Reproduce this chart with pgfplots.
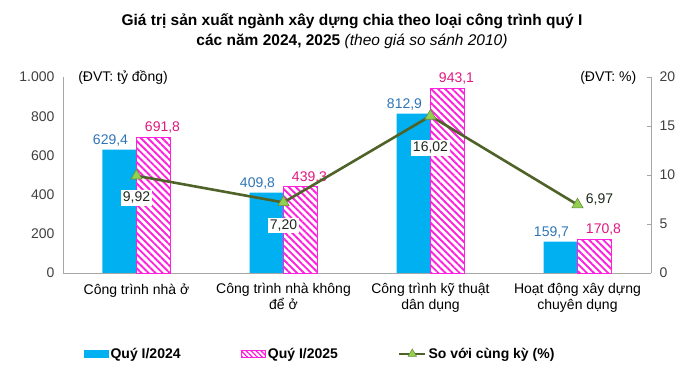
\documentclass[border=0pt]{standalone}
\usepackage{pgfplots}
\pgfplotsset{compat=1.18}
\usepackage{pgfplotstable}
\usepackage{fontspec}
\setmainfont{Liberation Sans}
\usetikzlibrary{patterns.meta}
\definecolor{barblue}{HTML}{00B0F0}
\definecolor{barpink}{HTML}{FF22DD}
\definecolor{lblblue}{HTML}{2E75B6}
\definecolor{lblpink}{HTML}{E0187F}
\definecolor{lineg}{HTML}{4F6228}
\definecolor{markg}{HTML}{92D050}
\definecolor{markd}{HTML}{6E8B3D}
\definecolor{axgray}{HTML}{A6A6A6}
\definecolor{txtgray}{HTML}{404040}
\definecolor{lbldark}{HTML}{1E2A1E}

\pgfplotstableread{
x y
0 629.4
1 409.8
2 812.9
3 159.7
}\quyA
\pgfplotstableread{
x y
0 691.8
1 439.3
2 943.1
3 170.8
}\quyB
\pgfplotstableread{
x y dx dy
0 9.92 0 -22
1 7.20 0 -23
2 16.02 0 -32
3 6.97 22 5
}\tangtruong

\begin{document}
\begin{tikzpicture}[x=1pt,y=1pt]
\path[use as bounding box] (0,0) rectangle (699,372);
\node[align=center, font=\fontsize{15.5}{19.5}\selectfont\bfseries] at (352,341)
 {Giá trị sản xuất ngành xây dựng chia theo loại công trình quý I\\
  các năm 2024, 2025 \mdseries\itshape(theo giá so sánh 2010)};
\begin{axis}[
  at={(63pt,99pt)}, anchor=south west,
  scale only axis, width=588pt, height=196pt,
  xmin=-0.5, xmax=3.5, ymin=0, ymax=1000,
  enlargelimits=false, clip=false,
  ybar=0pt, bar width=34pt,
  axis y line*=left, axis x line*=bottom,
  axis line style={draw=axgray, line width=0.8pt},
  major tick length=0pt,
  xtick={0,1,2,3},
  xticklabels={Công trình nhà ở, Công trình nhà không\\để ở, Công trình kỹ thuật\\dân dụng, Hoạt động xây dựng\\chuyên dụng},
  xticklabel style={align=center, font=\fontsize{14}{16}\selectfont, text=black, yshift=-7pt},
  ytick={0,200,400,600,800,1000},
  yticklabel style={font=\fontsize{14}{14}\selectfont, text=txtgray, xshift=-5pt},
  /pgf/number format/assume math mode=true,
  /pgf/number format/1000 sep={.},
  nodes near coords,
  nodes near coords style={/pgf/number format/fixed, /pgf/number format/fixed zerofill, /pgf/number format/precision=1, /pgf/number format/use comma, /pgf/number format/1000 sep={}},
]
\addplot[fill=barblue, draw=none,
  every node near coord/.append style={font=\fontsize{14}{14}\selectfont, text=lblblue, xshift=-9pt}]
  table[x=x,y=y] {\quyA};
\addplot[draw=barpink, line width=0.8pt,
  pattern={Lines[angle=-45, distance=5pt, line width=1.9pt]}, pattern color=barpink,
  every node near coord/.append style={font=\fontsize{14}{14}\selectfont, text=lblpink, xshift=9pt}]
  table[x=x,y=y] {\quyB};
\node[anchor=west, font=\fontsize{14}{14}\selectfont, text=black] at (rel axis cs:0.02,0.995) {(ĐVT: tỷ đồng)};
\end{axis}
\begin{axis}[
  at={(63pt,99pt)}, anchor=south west,
  scale only axis, width=588pt, height=196pt,
  xmin=-0.5, xmax=3.5, ymin=0, ymax=20,
  enlargelimits=false, clip=false,
  hide x axis,
  axis y line*=right,
  axis line style={draw=axgray, line width=0.8pt},
  ytick={0,5,10,15,20},
  tick align=inside, major tick length=4pt,
  tick style={draw=axgray, line width=0.8pt},
  yticklabel style={font=\fontsize{14}{14}\selectfont, text=txtgray, xshift=5pt},
  /pgf/number format/assume math mode=true,
  legend columns=3,
  legend style={at={(axis description cs:0.0357,-0.413)}, anchor=west, draw=none, fill=none,
    inner sep=0pt, font=\fontsize{14}{16}\selectfont\bfseries,
    /tikz/every even column/.append style={column sep=58pt}},
  legend cell align=left,
]
\addlegendimage{legend image code/.code={\fill[barblue] (0pt,-3.5pt) rectangle (24pt,3.5pt);}}
\addlegendentry{Quý I/2024}
\addlegendimage{legend image code/.code={\draw[draw=barpink, line width=0.6pt, pattern={Lines[angle=-45, distance=3.5pt, line width=1.3pt]}, pattern color=barpink] (0pt,-3.5pt) rectangle (24pt,3.5pt);}}
\addlegendentry{Quý I/2025}
\addplot[lineg, line width=2.6pt, mark=triangle*, mark size=6.5pt,
  mark options={fill=markg, draw=markd, line width=0.6pt},
  legend image code/.code={\draw[lineg, line width=2.6pt] (0pt,0pt) -- (26pt,0pt);
    \draw[fill=markg, draw=markd, line width=0.5pt] (13pt,0pt) +(90:5pt) -- +(210:5pt) -- +(330:5pt) -- cycle;},
  nodes near coords,
  point meta=explicit,
  visualization depends on={\thisrow{dx} \as \mydx},
  visualization depends on={\thisrow{dy} \as \mydy},
  nodes near coords style={anchor=center, xshift=\mydx pt, yshift=\mydy pt,
    fill=white, inner sep=2pt, text=lbldark, font=\fontsize{14}{14}\selectfont,
    /pgf/number format/fixed, /pgf/number format/fixed zerofill, /pgf/number format/precision=2, /pgf/number format/use comma},
  ]
  table[x=x, y=y, meta=y] {\tangtruong};
\addlegendentry{So với cùng kỳ (\%)}
\node[anchor=east, font=\fontsize{14}{14}\selectfont, text=black] at (rel axis cs:0.981,0.995) {(ĐVT: \%)};
\end{axis}
\end{tikzpicture}
\end{document}
